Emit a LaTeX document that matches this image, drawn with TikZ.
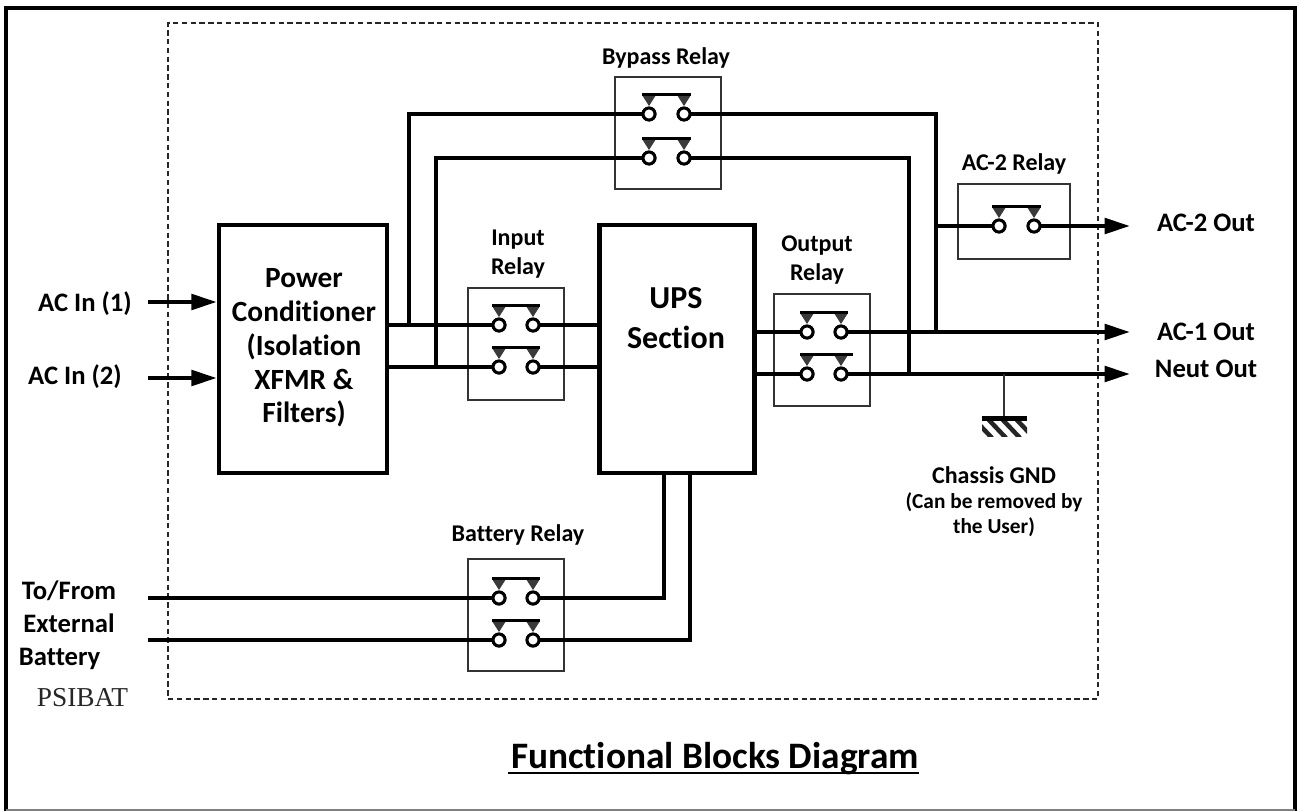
\documentclass[tikz,border=0pt]{standalone}
\usepackage{fontspec}
\setmainfont[Ligatures=NoCommon]{Carlito}
\newfontfamily\serifl{Liberation Serif}
\usetikzlibrary{arrows.meta}
\definecolor{tri}{HTML}{3A3A3A}
\tikzset{
  wire/.style={line width=3.2pt,draw=black},
  arrowwire/.style={wire,-{Triangle[length=19pt,width=11.5pt]}},
  block/.style={draw=black,line width=3.4pt,fill=white,inner sep=0pt},
  relaybox/.style={draw=black!80,line width=1.1pt,inner sep=0pt},
  contact/.style={circle,draw=black,line width=2.2pt,fill=white,minimum size=9pt,inner sep=0pt},
  lab/.style={font=\bfseries\fontsize{18}{21.3}\selectfont,align=center,inner sep=0pt},
  sidelab/.style={font=\bfseries\fontsize{20}{24.6}\selectfont,align=center,inner sep=0pt},
  blocktext/.style={font=\bfseries\fontsize{22}{25.3}\selectfont,align=center,inner sep=0pt},
}
\newcommand{\relaypole}[4]{% name, x-left, x-right, y
  \node[contact] (#1l) at (#2,#4) {};
  \node[contact] (#1r) at (#3,#4) {};
  \fill[tri] (#2-7,#4-19) -- (#2+7,#4-19) -- (#2,#4-8) -- cycle;
  \fill[tri] (#3-7,#4-19) -- (#3+7,#4-19) -- (#3,#4-8) -- cycle;
  \draw[line width=2.2pt] (#2-7,#4-19.5) -- (#3+7,#4-19.5);
}
\newcommand{\relayrect}[5]{% name, x0,y0,x1,y1
  \node[relaybox,minimum width={(#4-#2)*0.75pt},minimum height={(#5-#3)*0.75pt}] (#1) at ({(#2+#4)/2},{(#3+#5)/2}) {};
}
\begin{document}
\begin{tikzpicture}[x=0.75pt,y=-0.75pt]
\useasboundingbox (0,0) rectangle (1299,811);
\fill[white] (0,0) rectangle (1299,811);
\draw[black,line width=3.4pt] (6,811) -- (6,8) -- (1295,8) -- (1295,811);
\draw[black!50,line width=1.5pt] (6,810) -- (1295,810);
\node[draw=black!85,line width=1.1pt,dash pattern=on 4pt off 2.6pt,minimum width=697.5pt,minimum height=507pt,inner sep=0pt] (dash) at (633,361) {};

\coordinate (acina) at (148,302); \coordinate (acinb) at (148,378);
\coordinate (extba) at (148,598); \coordinate (extbb) at (148,640);
\coordinate (oa) at (1130,332); \coordinate (ob) at (1130,374); \coordinate (oc) at (1130,226);

\node[block,minimum width=126pt,minimum height=186pt] (pc) at (303,349) {};
\node[block,minimum width=116.5pt,minimum height=186pt] (ups) at (677,349) {};

\relayrect{byp}{615}{77}{721}{189}
\relayrect{inr}{468}{288}{564}{400}
\relayrect{outr}{774}{294}{870}{406}
\relayrect{batr}{468}{559}{564}{671}
\relayrect{acr}{958}{184}{1070}{259}

\draw[arrowwire] (acina) -- (acina -| pc.west);
\draw[arrowwire] (acinb) -- (acinb -| pc.west);

\coordinate (p1) at (pc.east |- 0,325); \coordinate (p2) at (pc.east |- 0,367);
\coordinate (t1) at (409,325); \coordinate (t2) at (436,367);
\coordinate (u1) at (ups.west |- 0,325); \coordinate (u2) at (ups.west |- 0,367);
\coordinate (v1) at (ups.east |- 0,332); \coordinate (v2) at (ups.east |- 0,374);
\coordinate (j1) at (936,332); \coordinate (j2) at (909,374); \coordinate (j3) at (936,226);
\coordinate (up1) at (664,473); \coordinate (up2) at (690,473);

\relaypole{bypa}{649}{684}{114}
\relaypole{bypb}{649}{684}{158}
\relaypole{ina}{499}{533}{325}
\relaypole{inb}{499}{533}{367}
\relaypole{outa}{807}{841}{332}
\relaypole{outb}{807}{841}{374}
\draw[line width=2.2pt] (841,354.5) -- (853,354.5);
\relaypole{bata}{499}{533}{598}
\relaypole{batb}{499}{533}{640}
\relaypole{acp}{999}{1034}{226}

\draw[wire] (p1) -- (inal);
\draw[wire] (p2) -- (inbl);
\draw[wire] (inar) -- (u1);
\draw[wire] (inbr) -- (u2);
\draw[wire] (v1) -- (outal);
\draw[wire] (v2) -- (outbl);
\draw[wire] (t1) -- (t1 |- bypal) -- (bypal);
\draw[wire] (t2) -- (t2 |- bypbl) -- (bypbl);
\draw[wire] (bypar) -- (j1 |- bypar) -- (j1);
\draw[wire] (bypbr) -- (j2 |- bypbr) -- (j2);
\draw[wire] (j3) -- (acpl);
\draw[arrowwire] (acpr) -- (oc);
\draw[arrowwire] (outar) -- (oa);
\draw[arrowwire] (outbr) -- (ob);
\draw[wire] (extba) -- (batal);
\draw[wire] (extbb) -- (batbl);
\draw[wire] (batar) -- (up1 |- batar) -- (up1);
\draw[wire] (batbr) -- (up2 |- batbr) -- (up2);

\foreach \xx/\yy in {649/114,684/114,649/158,684/158,499/325,533/325,499/367,533/367,807/332,841/332,807/374,841/374,499/598,533/598,499/640,533/640,999/226,1034/226}
  \node[contact] at (\xx,\yy) {};

% chassis ground
\coordinate (gt) at (1004,416);
\draw[line width=1.6pt,draw=black!80] (1004,374) -- (gt);
\fill (982,416) rectangle (1027,421);
\begin{scope}
\clip (982,421) rectangle (1027,436);
\foreach \s in {-14,0,14,28,42,56}
  \draw[line width=3.4pt,black!85] (982+\s-8,419) -- (982+\s+10,438);
\end{scope}

% labels
\node[lab] (tbyp) at (666,58) {Bypass Relay};
\node[lab] (tin) at (518,254) {Input\\Relay};
\node[lab] (tout) at (817,260) {Output\\Relay};
\node[lab] (tbat) at (518,535) {Battery Relay};
\node[lab] (tac) at (1014,164) {AC-2 Relay};
\node[blocktext] (tpc) at (304,348) {Power\\Conditioner\\(Isolation\\XFMR \&\\Filters)};
\node[font=\bfseries\fontsize{24}{30}\selectfont,align=center,inner sep=0pt] (tups) at (676,318) {UPS\\Section};
\node[sidelab] (l1) at (85,304) {AC In (1)};
\node[sidelab] (l2) at (75,377) {AC In (2)};
\node[sidelab] (l3) at (1206,223) {AC-2 Out};
\node[sidelab] (l4) at (1206,332) {AC-1 Out};
\node[sidelab] (l5) at (1206,369) {Neut Out};
\node[sidelab] (l6) at (69,625) {To/From\\External\\Battery\kern14pt};
\node[font=\serifl\fontsize{20.5}{24}\selectfont,inner sep=0pt,text=black!85] (l7) at (82.5,698) {PSIBAT};
\node[lab] (g1) at (994,475) {Chassis GND};
\node[lab,font=\bfseries\fontsize{16}{19}\selectfont] (g2) at (994,514.5) {(Can be removed by\\the User)};
\node[font=\bfseries\fontsize{28}{32}\selectfont,inner sep=0pt] (title) at (715,759) {Functional Blocks Diagram};
\draw[line width=2pt] (508,773) -- (919,773);
\end{tikzpicture}
\end{document}
